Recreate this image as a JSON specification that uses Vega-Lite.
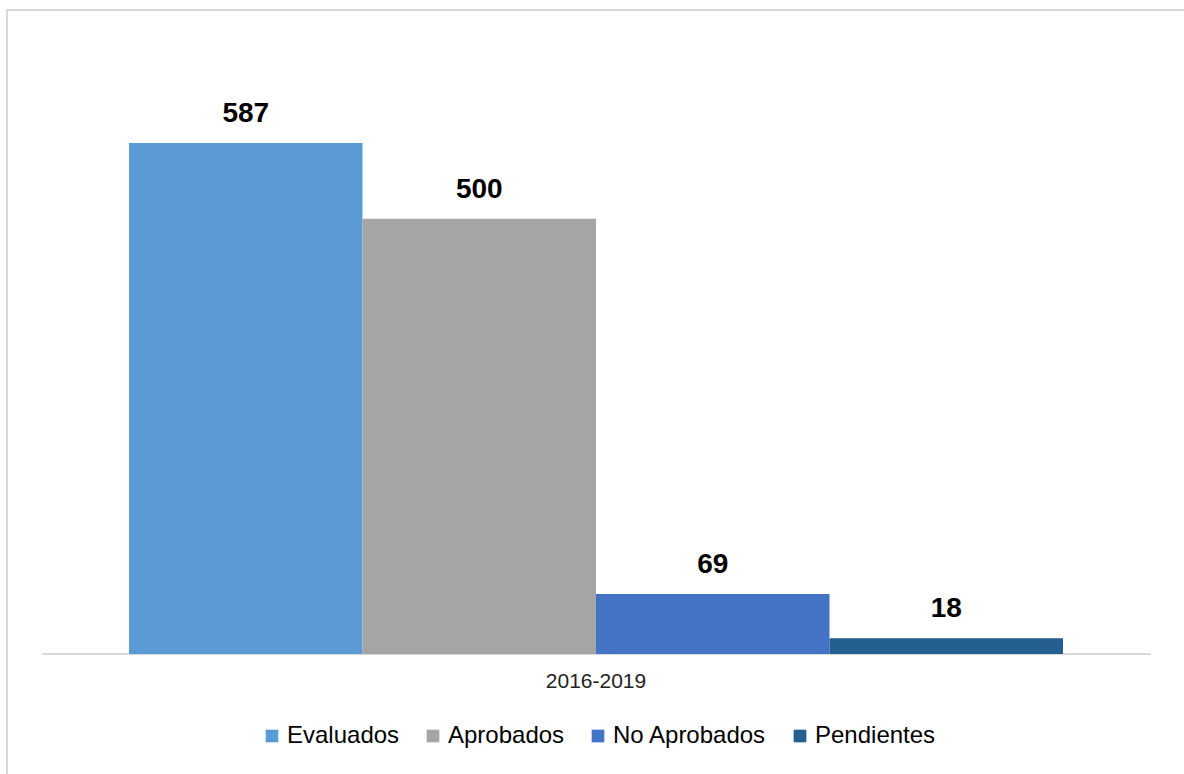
{
  "$schema": "https://vega.github.io/schema/vega-lite/v6.json",
  "width": 1183,
  "height": 770,
  "autosize": {"type": "none"},
  "padding": {"left": 7, "top": 10, "right": -6, "bottom": -6},
  "background": "white",
  "config": {
    "view": {"stroke": "#D9D9D9", "strokeWidth": 2},
    "font": "Liberation Sans"
  },
  "data": {
    "values": [
      {"periodo": "2016-2019", "serie": "Evaluados", "valor": 587},
      {"periodo": "2016-2019", "serie": "Aprobados", "valor": 500},
      {"periodo": "2016-2019", "serie": "No Aprobados", "valor": 69},
      {"periodo": "2016-2019", "serie": "Pendientes", "valor": 18}
    ]
  },
  "layer": [
    {
      "data": {"values": [{"inicio": 0, "fin": 1, "base": 0}]},
      "mark": {"type": "rule", "color": "#D9D9D9", "strokeWidth": 2},
      "encoding": {
        "x": {"field": "inicio", "type": "quantitative", "scale": {"domain": [-0.03156, 1.03517], "nice": false, "zero": false}, "axis": null},
        "x2": {"field": "fin"},
        "y": {"field": "base", "type": "quantitative", "scale": {"domain": [-144.74, 739.78], "nice": false, "zero": false}, "axis": null}
      }
    },
    {
      "mark": {"type": "bar"},
      "encoding": {
        "x": {
          "field": "periodo", "type": "nominal",
          "scale": {"paddingInner": 0, "paddingOuter": 0.1333, "align": 0.49},
          "axis": {"title": null, "orient": "bottom", "offset": -126, "domain": false, "ticks": false, "labelPadding": 16, "labelFontSize": 21, "labelColor": "#222222", "labelAngle": 0, "grid": false}
        },
        "xOffset": {
          "field": "serie", "type": "nominal",
          "scale": {"domain": ["Evaluados", "Aprobados", "No Aprobados", "Pendientes"], "paddingInner": 0, "paddingOuter": 0}
        },
        "y": {"field": "valor", "type": "quantitative", "scale": {"domain": [-144.74, 739.78], "nice": false, "zero": false}, "axis": null},
        "y2": {"datum": 0},
        "color": {
          "field": "serie", "type": "nominal",
          "scale": {"domain": ["Evaluados", "Aprobados", "No Aprobados", "Pendientes"], "range": ["#5B9BD5", "#A5A5A5", "#4472C4", "#255E91"]},
          "legend": {
            "title": null, "orient": "none", "direction": "horizontal",
            "legendX": 253, "legendY": 714,
            "symbolType": "square", "symbolSize": 160, "symbolStrokeWidth": 0,
            "labelFontSize": 24, "labelColor": "#000000", "labelOffset": 3,
            "columnPadding": 21, "labelLimit": 400
          }
        }
      }
    },
    {
      "mark": {"type": "text", "dy": -21, "baseline": "alphabetic", "fontSize": 28, "fontWeight": "bold", "color": "#000000"},
      "encoding": {
        "x": {"field": "periodo", "type": "nominal", "scale": {"paddingInner": 0, "paddingOuter": 0.1333, "align": 0.49}, "axis": null},
        "xOffset": {
          "field": "serie", "type": "nominal",
          "scale": {"domain": ["Evaluados", "Aprobados", "No Aprobados", "Pendientes"], "paddingInner": 0, "paddingOuter": 0}
        },
        "y": {"field": "valor", "type": "quantitative"},
        "text": {"field": "valor", "type": "quantitative"}
      }
    }
  ],
  "resolve": {"scale": {"x": "independent"}}
}
